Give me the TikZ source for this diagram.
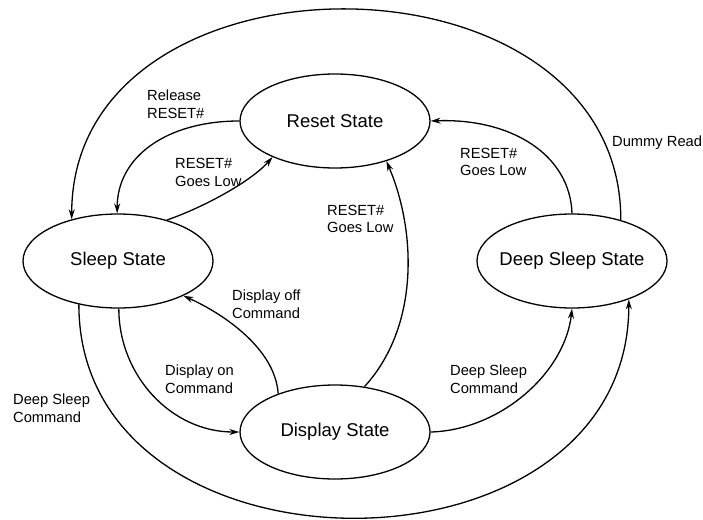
\documentclass[tikz,border=0pt]{standalone}
\usepackage{fontspec}
\setmainfont{Liberation Sans}
\usetikzlibrary{shapes.geometric,arrows.meta}
\begin{document}
\begin{tikzpicture}[x=1pt,y=-1pt,
  state/.style={ellipse,draw,line width=1.3pt,minimum width=190pt,minimum height=94pt,inner sep=0pt,font=\fontsize{18.5}{22}\selectfont},
  lbl/.style={anchor=west,align=left,inner sep=0pt,font=\fontsize{14.7}{17.7}\selectfont},
  tr/.style={draw,line width=1.3pt,-{Stealth[length=10pt,width=6pt]}}]
\useasboundingbox[fill=white] (0,0) rectangle (703,519);
\node[state] (reset) at (335,121) {\makebox[0pt]{Reset State}};
\node[state] (sleep) at (118,261) {\makebox[0pt]{Sleep State}};
\node[state] (deep) at (572,261) {\makebox[0pt]{Deep Sleep State}};
\node[state] (disp) at (335,432) {\makebox[0pt]{Display State}};
% connectors
\path[tr] (reset.180) .. controls +(-72,0) and +(0,-57) .. (sleep.91);
\path[tr] (sleep.40) .. controls +(35,-12) and +(-22,25) .. (reset.210);
\path[tr] (disp.57) .. controls +(55,-60) and +(30,70) .. (reset.-38);
\path[tr] (sleep.271) .. controls +(0,67) and +(-68,0) .. (disp.180);
\path[tr] (disp.146) .. controls +(-3,-45) and +(40,18) .. (sleep.-28);
\path[tr] (sleep.228) .. controls +(0,285) and +(0,290) .. (deep.-34);
\path[tr] (disp.0) .. controls +(70,-2) and +(-7,64) .. (deep.270);
\path[tr] (deep.90) .. controls +(-2,-59) and +(80,-3) .. (reset.0);
\path[tr] (deep.40) .. controls +(0,-280) and +(0,-280) .. (sleep.138);
% labels
\node[lbl] (l1) at (147,104.5) {Release\\RESET\#};
\node[lbl] (l2) at (175,172.5) {RESET\#\\Goes Low};
\node[lbl] (l3) at (327,219) {RESET\#\\Goes Low};
\node[lbl] (l4) at (460,162) {RESET\#\\Goes Low};
\node[lbl] (l5) at (612,143) {Dummy Read};
\node[lbl] (l6) at (232,304) {Display off\\Command};
\node[lbl] (l7) at (165,379) {Display on\\Command};
\node[lbl] (l8) at (13,408.5) {Deep Sleep\\Command};
\node[lbl] (l9) at (450,379) {Deep Sleep\\Command};
\end{tikzpicture}
\end{document}
